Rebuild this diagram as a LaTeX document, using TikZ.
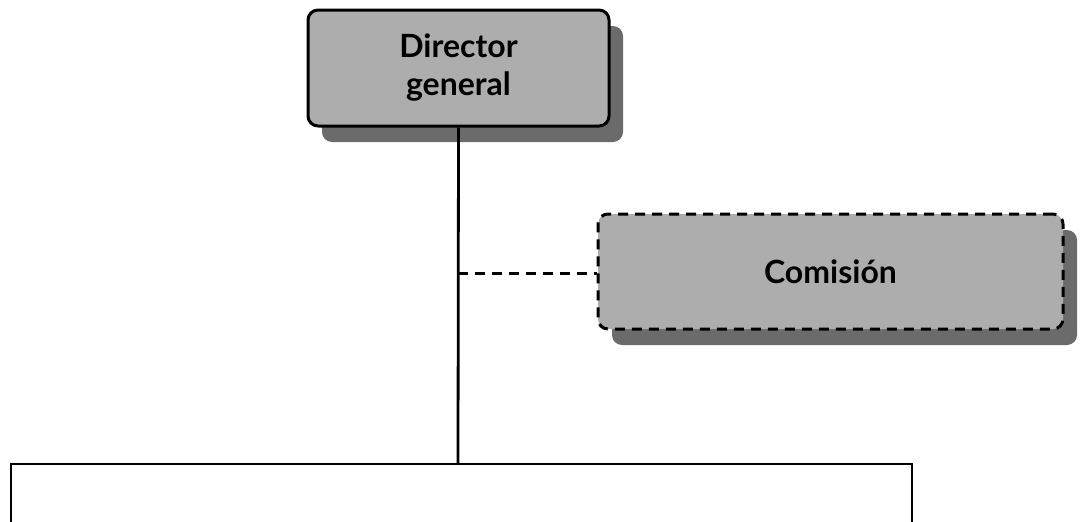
\documentclass[tikz,border=0pt]{standalone}
\usepackage{fontspec}
\setmainfont{Lato}[UprightFont=* Bold]
\usetikzlibrary{shadows}
\tikzset{
  orgbox/.style={rectangle, rounded corners=10pt, fill=black!32, line width=3pt,
    draw=black, align=center, font=\fontsize{32}{38}\selectfont,
    drop shadow={shadow xshift=14pt, shadow yshift=-16pt, fill=black!58, opacity=1}},
  solidline/.style={line width=2.8pt},
  dashline/.style={line width=3pt, dash pattern=on 10pt off 7pt}
}
\begin{document}
\begin{tikzpicture}[x=1pt,y=-1pt]
\fill[white] (0,0) rectangle (1082,522);
\useasboundingbox (0,0) rectangle (1082,522);
\node[orgbox, minimum width=301pt, minimum height=116pt] (dir) at (458.5,68) {Director\\general};
\node[orgbox, dash pattern=on 10pt off 7pt, minimum width=465pt, minimum height=115pt] (com) at (830.5,271.5) {Comisión};
\coordinate (junc) at (458,464);
\coordinate (left) at (11,464);
\coordinate (right) at (912,464);
\coordinate (leftend) at (11,524);
\coordinate (rightend) at (912,524);
\coordinate (dashstart) at (458,273);
\draw[solidline] (dir.south) -- (junc);
\draw[solidline, line cap=rect] (leftend) -- (left) -- (right) -- (rightend);
\draw[dashline] (dashstart) -- (dashstart -| com.west);
\end{tikzpicture}
\end{document}
